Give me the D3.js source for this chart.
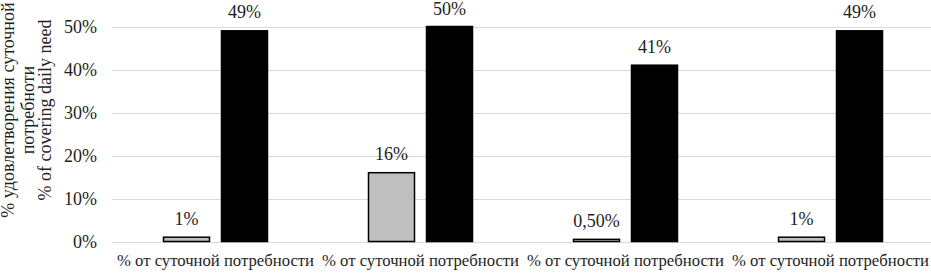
<!DOCTYPE html>
<html>
<head>
<meta charset="utf-8">
<script src="https://cdn.jsdelivr.net/npm/d3@7"></script>
<style>
  body { margin: 0; background: #fff; }
</style>
</head>
<body>
<svg id="chart" width="931" height="273"></svg>
<script>
// chart data
const categories = ['c1', 'c2', 'c3', 'c4'];
const categoryLabels = ['% от суточной потребности', '% от суточной потребности', '% от суточной потребности', '% от суточной потребности'];
const grayValues = [1, 16, 0.5, 1];
const grayLabels = ['1%', '16%', '0,50%', '1%'];
const blackValues = [49, 50, 41, 49];
const blackLabels = ['49%', '50%', '41%', '49%'];
const yTicks = [0, 10, 20, 30, 40, 50];
const yTitle = ['% удовлетворения суточной', 'потребноти', '% of covering daily need'];

const width = 931, height = 273;
const margin = { top: 26.5, right: -2, bottom: 31.5, left: 113 };
const font = 'Liberation Serif';
const ink = '#1e1e1e';

const svg = d3.select('#chart');

const x = d3.scaleBand()
	.domain(categories)
	.range([margin.left, width - margin.right]);

const y = d3.scaleLinear()
	.domain([0, 50])
	.range([height - margin.bottom, margin.top]);

const barW = 46, gap = 12;

// gridlines
svg.append('g')
	.selectAll('line')
	.data(yTicks)
	.enter().append('line')
	.attr('x1', 112)
	.attr('x2', 931)
	.attr('y1', d => Math.round(y(d)) + 0.5)
	.attr('y2', d => Math.round(y(d)) + 0.5)
	.attr('stroke', '#d9d9d9')
	.attr('stroke-width', 1);

// y tick labels
svg.append('g')
	.selectAll('text')
	.data(yTicks)
	.enter().append('text')
	.attr('x', 97)
	.attr('y', d => y(d))
	.attr('dy', '0.35em')
	.attr('text-anchor', 'end')
	.attr('font-family', font)
	.attr('font-size', 18)
	.attr('fill', ink)
	.text(d => d + '%');

// y title, rotated; baselines measured from the left edge
const titleBase = [13.5, 33.5, 51];
svg.append('g')
	.selectAll('text')
	.data(yTitle)
	.enter().append('text')
	.attr('transform', (d, i) => `translate(${titleBase[i]},110) rotate(-90)`)
	.attr('text-anchor', 'middle')
	.attr('font-family', font)
	.attr('font-size', 18)
	.attr('fill', ink)
	.text(d => d);

const cat = svg.append('g')
	.selectAll('g')
	.data(categories)
	.enter().append('g');

// gray bars
cat.append('rect')
	.attr('x', (d, i) => x(d) + x.bandwidth() / 2 - gap / 2 - barW)
	.attr('y', (d, i) => y(grayValues[i]))
	.attr('width', barW)
	.attr('height', (d, i) => y(0) - y(grayValues[i]))
	.attr('fill', '#bfbfbf')
	.attr('stroke', '#000')
	.attr('stroke-width', 1.5);

// black bars
cat.append('rect')
	.attr('x', (d, i) => x(d) + x.bandwidth() / 2 + gap / 2)
	.attr('y', (d, i) => y(blackValues[i]))
	.attr('width', barW)
	.attr('height', (d, i) => y(0) - y(blackValues[i]))
	.attr('fill', '#000')
	.attr('stroke', '#000')
	.attr('stroke-width', 1.5);

// value labels
cat.append('text')
	.attr('x', (d, i) => x(d) + x.bandwidth() / 2 - gap / 2 - barW / 2)
	.attr('y', (d, i) => y(grayValues[i]) - 12.5)
	.attr('text-anchor', 'middle')
	.attr('font-family', font)
	.attr('font-size', 18)
	.attr('fill', ink)
	.text((d, i) => grayLabels[i]);

cat.append('text')
	.attr('x', (d, i) => x(d) + x.bandwidth() / 2 + gap / 2 + barW / 2)
	.attr('y', (d, i) => Math.max(y(blackValues[i]) - 12.5, 15))
	.attr('text-anchor', 'middle')
	.attr('font-family', font)
	.attr('font-size', 18)
	.attr('fill', ink)
	.text((d, i) => blackLabels[i]);

// category labels
cat.append('text')
	.attr('x', d => x(d) + x.bandwidth() / 2)
	.attr('y', 266)
	.attr('text-anchor', 'middle')
	.attr('font-family', font)
	.attr('font-size', 16.7)
	.attr('fill', ink)
	.text((d, i) => categoryLabels[i]);
</script>
</body>
</html>
